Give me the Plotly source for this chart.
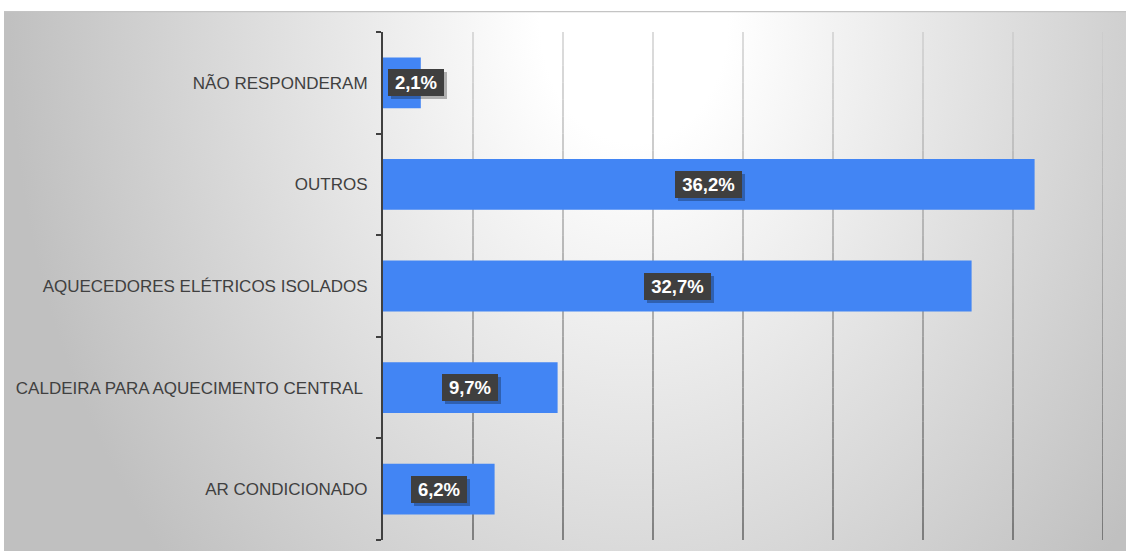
import base64
import plotly.graph_objects as go

# Survey results: main heating equipment (share of respondents, %)
categories = [
    "AR CONDICIONADO",
    "CALDEIRA PARA AQUECIMENTO CENTRAL\u00a0",
    "AQUECEDORES ELÉTRICOS ISOLADOS",
    "OUTROS",
    "NÃO RESPONDERAM",
]
values = [6.2, 9.7, 32.7, 36.2, 2.1]

x_max = 40
x_step = 5
grid_values = list(range(x_step, x_max + 1, x_step))

W, H = 1126, 551
margin = dict(l=383, r=23, t=32, b=11)
plot_w = W - margin["l"] - margin["r"]
plot_h = H - margin["t"] - margin["b"]
px_per_unit = plot_w / x_max

BAR_COLOR = "#4285F4"
TEXT_COLOR = "#404040"
FONT = "Liberation Sans, Arial, sans-serif"

# Soft radial background behind the whole chart area
bg_left, bg_top = 4, 11
bg_w, bg_h = W - bg_left, H - bg_top
svg = f"""<svg xmlns='http://www.w3.org/2000/svg' width='{bg_w}' height='{bg_h}' viewBox='0 0 {bg_w} {bg_h}' preserveAspectRatio='none'>
<defs><radialGradient id='g' gradientUnits='userSpaceOnUse' cx='630' cy='10' r='625'
 gradientTransform='translate(630,10) scale(1,1.3) translate(-630,-10)'>
<stop offset='0' stop-color='#ffffff'/><stop offset='0.15' stop-color='#ffffff'/>
<stop offset='1' stop-color='#c0c0c0'/></radialGradient></defs>
<rect x='0' y='0' width='{bg_w}' height='{bg_h}' fill='url(#g)'/>
<line x1='0' y1='0.5' x2='{bg_w}' y2='0.5' stroke='#c4c4c4' stroke-width='1.5'/>
</svg>"""
bg_uri = "data:image/svg+xml;base64," + base64.b64encode(svg.encode()).decode()

fig = go.Figure(
    go.Bar(
        x=values,
        y=categories,
        orientation="h",
        width=0.5,
        marker=dict(color=BAR_COLOR, line=dict(width=0)),
        hoverinfo="skip",
    )
)

# Vertical gridlines fading from light grey at the top to dark grey at the bottom
shapes = []
n_seg = 30
for gv in grid_values:
    for i in range(n_seg):
        t = (i + 0.5) / n_seg  # 0 = bottom, 1 = top
        c = int(80 + (205 - 80) * t)
        shapes.append(dict(
            type="line", xref="x", yref="paper",
            x0=gv, x1=gv, y0=i / n_seg, y1=(i + 1) / n_seg,
            line=dict(color=f"rgb({c},{c},{c})", width=1.3),
            layer="below",
        ))

# Value labels in dark boxes with a drop shadow
annotations = []
for cat, v in zip(categories, values):
    label = f"{v:.1f}".replace(".", ",") + "%"
    box_w = 11 * len(label) + 6
    half = box_w / 2 + 3
    center_px = v / 2 * px_per_unit
    if center_px - half < 5:
        pos = dict(x=0, xanchor="left", xshift=5)
    else:
        pos = dict(x=v / 2, xanchor="center", xshift=0)
    common = dict(
        y=cat, xref="x", yref="y", yanchor="middle", showarrow=False,
        width=box_w, height=21, borderpad=3, borderwidth=0, align="center",
    )
    shadow = dict(common, **pos)
    shadow["xshift"] = pos["xshift"] + 3
    annotations.append(dict(
        shadow, yshift=-3, text="\u00a0", bgcolor="rgba(0,0,0,0.28)",
        font=dict(family=FONT, size=18.5, color="rgba(0,0,0,0)"),
    ))
    annotations.append(dict(
        common, **pos, text=f"<b>{label}</b>", bgcolor="#3f3f3f",
        font=dict(family=FONT, size=18.5, color="#ffffff"),
    ))

fig.update_layout(
    width=W, height=H,
    margin=dict(margin, pad=0, autoexpand=False),
    paper_bgcolor="#ffffff",
    plot_bgcolor="rgba(0,0,0,0)",
    showlegend=False,
    bargap=0.5,
    images=[dict(
        source=bg_uri, xref="paper", yref="paper",
        x=(bg_left - margin["l"]) / plot_w,
        y=(H - margin["b"] - bg_top) / plot_h,
        sizex=bg_w / plot_w, sizey=bg_h / plot_h,
        xanchor="left", yanchor="top", sizing="stretch", layer="below",
    )],
    shapes=shapes,
    annotations=annotations,
    xaxis=dict(
        range=[0, x_max], dtick=x_step, showgrid=False, zeroline=False,
        showticklabels=False, ticks="", showline=False, fixedrange=True,
    ),
    yaxis=dict(
        categoryorder="array", categoryarray=categories,
        range=[-0.5, len(categories) - 0.5],
        showline=True, linecolor=TEXT_COLOR, linewidth=2,
        ticks="outside", ticklen=5, tickwidth=2, tickcolor=TEXT_COLOR,
        tickson="boundaries", ticklabelstandoff=10,
        showgrid=False, zeroline=False,
        tickfont=dict(family=FONT, size=17, color=TEXT_COLOR),
        fixedrange=True,
    ),
)

fig.write_html("out.html", config={"displayModeBar": False})
